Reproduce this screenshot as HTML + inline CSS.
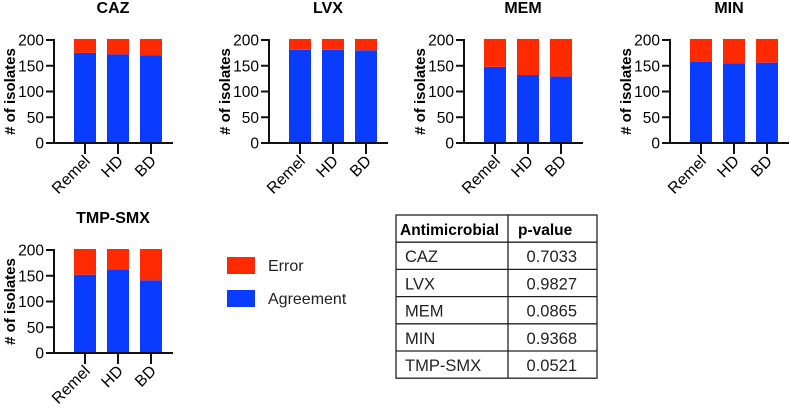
<!DOCTYPE html>
<html><head><meta charset="utf-8"><style>
html,body{margin:0;padding:0;background:#fff;}
svg{display:block;font-family:"Liberation Sans",Arial,sans-serif;}
</style></head><body>
<svg id="chart" width="790" height="411" viewBox="0 0 790 411" xmlns="http://www.w3.org/2000/svg"></svg>
<script>
const categories = ["Remel","HD","BD"];
const drugs = ["CAZ","LVX","MEM","MIN","TMP-SMX"];
const totals = [202,202,202,202,202];
const agreeCAZ = [175,172,170];
const agreeLVX = [181,181,180];
const agreeMEM = [148,132,129];
const agreeMIN = [158,155,156];
const agreeTMP = [152,162,141];
const yTicks = [0,50,100,150,200];
const pvalues = ["0.7033","0.9827","0.0865","0.9368","0.0521"];

const agreeAll = [agreeCAZ,agreeLVX,agreeMEM,agreeMIN,agreeTMP];
const panels = [{x:54,y0:143},{x:269,y0:143},{x:464,y0:143},{x:670,y0:143},{x:54,y0:353}];
const NS="http://www.w3.org/2000/svg";
const svg=document.getElementById('chart');
function mk(t,a,p){const e=document.createElementNS(NS,t);for(const k in a)e.setAttribute(k,a[k]);(p||svg).appendChild(e);return e;}
const H=103, BLUE="#0a3cff", RED="#ff2a00";
panels.forEach((p,i)=>{
  const g=mk('g',{});
  
  
  const ys=v=>p.y0-v/200*H;
  const xs=j=>p.x+31+j*33;
  const t=mk('text',{x:p.x+59,y:p.y0-H-27,'text-anchor':'middle','font-size':16,'font-weight':'bold'},g);
  t.textContent=drugs[i];
  
  
  const at=mk('text',{transform:`translate(${p.x-39},${p.y0-H/2}) rotate(-90)`,'text-anchor':'middle','font-size':15,'font-weight':'bold'},g);
  at.textContent="# of isolates";
  
  
  categories.forEach((c,j)=>{
    const a=agreeAll[i][j], tot=totals[i];
    const b=mk('rect',{x:xs(j)-11,y:ys(a),width:22,height:ys(0)-ys(a),fill:BLUE},g);
    
    
    const r=mk('rect',{x:xs(j)-11,y:ys(tot),width:22,height:ys(a)-ys(tot),fill:RED},g);
    
    
    mk('line',{x1:xs(j),x2:xs(j),y1:p.y0,y2:p.y0+11,stroke:'#111','stroke-width':2},g);
    const l=mk('text',{transform:`translate(${xs(j)+6},${p.y0+19}) rotate(-45)`,'text-anchor':'end','font-size':16},g);
    l.textContent=c;
    
    
  });
  yTicks.forEach(v=>{
    mk('line',{x1:p.x-8,x2:p.x,y1:ys(v),y2:ys(v),stroke:'#111','stroke-width':2},g);
    const l=mk('text',{x:p.x-10,y:ys(v)+5.5,'text-anchor':'end','font-size':15.5},g);
    l.textContent=v;
    
    
  });
  mk('line',{x1:p.x,x2:p.x,y1:ys(200)-1,y2:p.y0+1,stroke:'#111','stroke-width':2},g);
  mk('line',{x1:p.x-1,x2:p.x+119,y1:p.y0,y2:p.y0,stroke:'#111','stroke-width':2},g);
});
const lg=mk('g',{});


[["Error",RED,257],["Agreement",BLUE,290]].forEach(e=>{
  const r=mk('rect',{x:227,y:e[2],width:28,height:17,fill:e[1]},lg);
  
  
  const t=mk('text',{x:268,y:e[2]+14,'font-size':16,fill:'#222'},lg);
  t.textContent=e[0];
  
  
});
const tg=mk('g',{});


const tx0=396,tx1=597,tdiv=508,ty0=215,rh=27.2;
mk('rect',{x:tx0,y:ty0,width:tx1-tx0,height:rh*6,fill:'none',stroke:'#222','stroke-width':1.3},tg);
mk('line',{x1:tdiv,x2:tdiv,y1:ty0,y2:ty0+rh*6,stroke:'#222','stroke-width':1.3},tg);
for(let k=1;k<6;k++)mk('line',{x1:tx0,x2:tx1,y1:ty0+k*rh,y2:ty0+k*rh,stroke:'#222','stroke-width':1.3},tg);
let h=mk('text',{x:400,y:ty0+20,'font-size':15.5,'font-weight':'bold'},tg);h.textContent="Antimicrobial";


h=mk('text',{x:518,y:ty0+20,'font-size':15.5,'font-weight':'bold'},tg);h.textContent="p-value";


drugs.forEach((d,k)=>{
  const y=ty0+(k+1)*rh+20;
  const a=mk('text',{x:405,y:y,'font-size':16.5,fill:'#222'},tg);a.textContent=d;
  
  
  const b=mk('text',{x:577,y:y,'font-size':16.5,'text-anchor':'end',fill:'#222'},tg);b.textContent=pvalues[k];
  
  
});
</script>
</body></html>
